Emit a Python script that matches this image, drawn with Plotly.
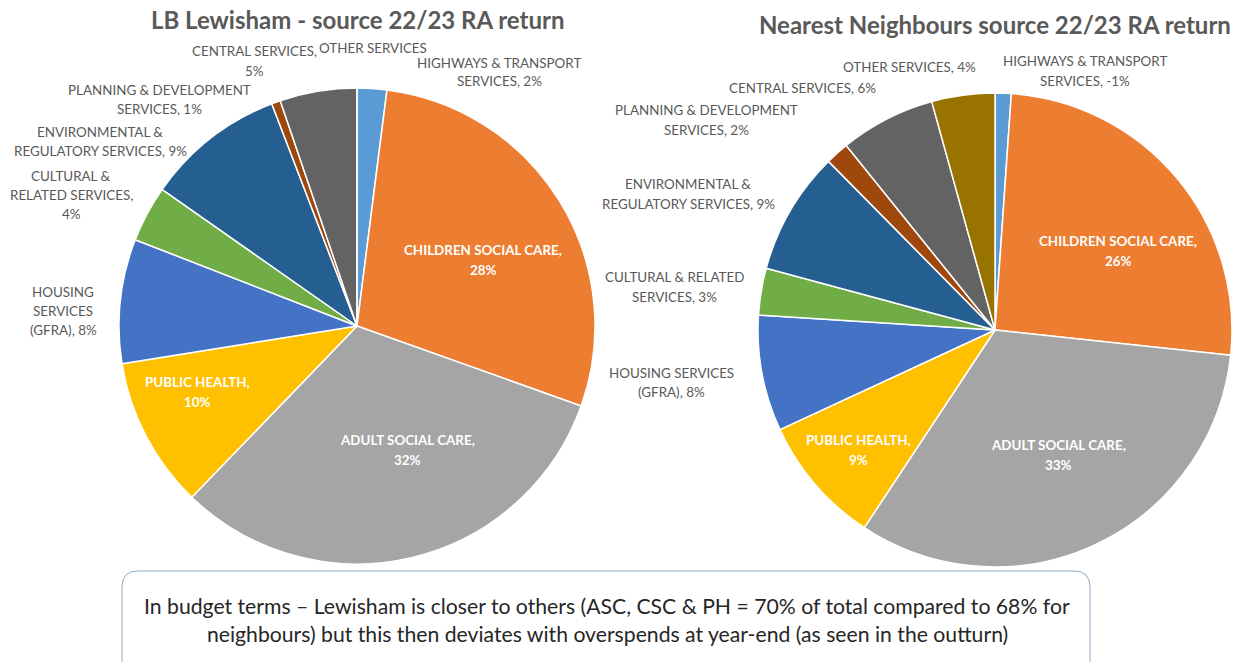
import plotly.graph_objects as go

W, H = 1241, 662

categories = [
    "HIGHWAYS & TRANSPORT SERVICES", "CHILDREN SOCIAL CARE", "ADULT SOCIAL CARE",
    "PUBLIC HEALTH", "HOUSING SERVICES (GFRA)", "CULTURAL & RELATED SERVICES",
    "ENVIRONMENTAL & REGULATORY SERVICES", "PLANNING & DEVELOPMENT SERVICES",
    "CENTRAL SERVICES", "OTHER SERVICES",
]
lewisham_values = [2.0, 28.3, 31.6, 10.2, 8.4, 3.8, 9.4, 0.6, 5.2, 0.0]
neighbour_values = [1.1, 25.6, 32.6, 8.8, 7.9, 3.2, 8.4, 1.6, 6.5, 4.3]
lewisham_labels = [
    "HIGHWAYS & TRANSPORT<br>SERVICES, 2%", "CHILDREN SOCIAL CARE,<br>28%",
    "ADULT SOCIAL CARE,<br>32%", "PUBLIC HEALTH,<br>10%", "HOUSING<br>SERVICES<br>(GFRA), 8%",
    "CULTURAL &<br>RELATED SERVICES,<br>4%", "ENVIRONMENTAL &<br>REGULATORY SERVICES, 9%",
    "PLANNING & DEVELOPMENT<br>SERVICES, 1%", "CENTRAL SERVICES,<br>5%", "OTHER SERVICES",
]
neighbour_labels = [
    "HIGHWAYS & TRANSPORT<br>SERVICES, -1%", "CHILDREN SOCIAL CARE,<br>26%",
    "ADULT SOCIAL CARE,<br>33%", "PUBLIC HEALTH,<br>9%", "HOUSING SERVICES<br>(GFRA), 8%",
    "CULTURAL & RELATED<br>SERVICES, 3%", "ENVIRONMENTAL &<br>REGULATORY SERVICES, 9%",
    "PLANNING & DEVELOPMENT<br>SERVICES, 2%", "CENTRAL SERVICES, 6%", "OTHER SERVICES, 4%",
]
titles = ["LB Lewisham - source 22/23 RA return", "Nearest Neighbours source 22/23 RA return"]
note_lines = [
    "In budget terms \u2013 Lewisham is closer to others (ASC, CSC & PH = 70% of total compared to 68% for",
    "neighbours) but this then deviates with overspends at year-end (as seen in the outturn)",
]

colors = ["#5B9BD5", "#ED7D31", "#A5A5A5", "#FFC000", "#4472C4", "#70AD47",
          "#255E91", "#9E480E", "#636363", "#997300"]
inside = [False, True, True, True, False, False, False, False, False, False]

# label positions (pixel centres) - styling only
left_pos = [(499, 72), (483, 260), (407, 450), (197, 392), (63, 311), (71, 195),
            (100, 141), (160, 99), (254, 61), (373, 48)]
right_pos = [(1085, 71), (1118, 251), (1058, 455), (858, 450), (671, 382), (675, 287),
             (688, 194), (706, 120), (802, 88), (909, 67)]

def px(x):
    return x / W

def py(y):
    return 1 - y / H

FONT = "Lato, Carlito, 'Open Sans', sans-serif"

fig = go.Figure()
fig.add_trace(go.Pie(
    labels=categories, values=lewisham_values, sort=False, direction="clockwise",
    rotation=0, textinfo="none", hoverinfo="label+percent",
    marker=dict(colors=colors, line=dict(color="white", width=1.5)),
    domain=dict(x=[px(119), px(595)], y=[py(564), py(88)]), showlegend=False,
))
fig.add_trace(go.Pie(
    labels=categories, values=neighbour_values, sort=False, direction="clockwise",
    rotation=0, textinfo="none", hoverinfo="label+percent",
    marker=dict(colors=colors, line=dict(color="white", width=1.5)),
    domain=dict(x=[px(758), px(1232)], y=[py(567), py(93)]), showlegend=False,
))

annotations = []
for labels, pos in ((lewisham_labels, left_pos), (neighbour_labels, right_pos)):
    for lab, (x, y), ins in zip(labels, pos, inside):
        lines = lab.split("<br>")
        step = 20 if ins else 19
        top = y - step * (len(lines) - 1) / 2
        for k, ln in enumerate(lines):
            annotations.append(dict(
                x=px(x), y=py(top + k * step), xref="paper", yref="paper", text=ln,
                showarrow=False, xanchor="center", yanchor="middle", align="center",
                font=dict(family=FONT, size=13.4, color="white" if ins else "#595959",
                          weight="bold" if ins else "normal"),
            ))

annotations.append(dict(x=px(357.5), y=py(20), xref="paper", yref="paper", text=titles[0],
                        showarrow=False, xanchor="center", yanchor="middle",
                        font=dict(family=FONT, size=24, color="#595959", weight="bold")))
annotations.append(dict(x=px(995), y=py(25), xref="paper", yref="paper", text=titles[1],
                        showarrow=False, xanchor="center", yanchor="middle",
                        font=dict(family=FONT, size=24, color="#595959", weight="bold")))
for i, line in enumerate(note_lines):
    annotations.append(dict(x=px(607), y=py(606 + 28 * i), xref="paper", yref="paper",
                            text=line, showarrow=False, xanchor="center", yanchor="middle",
                            font=dict(family=FONT, size=21.2, color="#262626")))

# rounded box
x0, x1, y0, y1, r = 122, 1090, 571, 690, 16
path = (f"M {px(x0 + r)} {py(y0)} L {px(x1 - r)} {py(y0)} "
        f"Q {px(x1)} {py(y0)} {px(x1)} {py(y0 + r)} L {px(x1)} {py(y1 - r)} "
        f"Q {px(x1)} {py(y1)} {px(x1 - r)} {py(y1)} L {px(x0 + r)} {py(y1)} "
        f"Q {px(x0)} {py(y1)} {px(x0)} {py(y1 - r)} L {px(x0)} {py(y0 + r)} "
        f"Q {px(x0)} {py(y0)} {px(x0 + r)} {py(y0)} Z")

fig.update_layout(
    width=W, height=H, margin=dict(l=0, r=0, t=0, b=0),
    paper_bgcolor="white", plot_bgcolor="white",
    annotations=annotations,
    shapes=[dict(type="path", path=path, xref="paper", yref="paper",
                 line=dict(color="#8EA9C4", width=1), fillcolor="rgba(0,0,0,0)", layer="below")],
)
fig.write_html("out.html", config={"displayModeBar": False},
               post_script="document.body.style.margin='0';document.body.style.overflow='hidden';")
